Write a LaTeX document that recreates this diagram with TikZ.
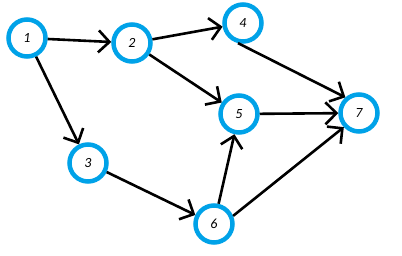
\documentclass[tikz,border=0pt]{standalone}
\usepackage{fontspec}
\setmainfont{Carlito}
\usetikzlibrary{arrows.meta}
\begin{document}
\begin{tikzpicture}[x=1pt,y=-1pt,
  vtx/.style={circle,draw={rgb,255:red,0;green,162;blue,232},line width=4.5pt,minimum size=37pt,inner sep=0pt,font=\fontsize{14}{14}\selectfont\itshape},
  edge/.style={line width=2.6pt,-{Straight Barb[length=11pt,width=22pt,line width=2.6pt]}}]
\useasboundingbox (0,0) rectangle (402,256);
\node[vtx] (n1) at (27,38) {1};
\node[vtx] (n2) at (132,43) {2};
\node[vtx] (n4) at (243,23) {4};
\node[vtx] (n5) at (239,114) {5};
\node[vtx] (n7) at (359,113) {7};
\node[vtx] (n3) at (88,163) {3};
\node[vtx] (n6) at (214,224) {6};
\draw[edge] (n1) -- (n2);
\draw[edge] (n2) -- (n4);
\draw[edge] (n2) -- (n5);
\draw[edge] (n1) -- (n3);
\draw[edge] (n3) -- (n6);
\draw[edge] (n6) -- (n5);
\draw[edge] (n4.-104) -- (n7.131);
\draw[edge] (n5) -- (n7);
\draw[edge] (n6.23) -- (n7.-137);
\end{tikzpicture}
\end{document}
